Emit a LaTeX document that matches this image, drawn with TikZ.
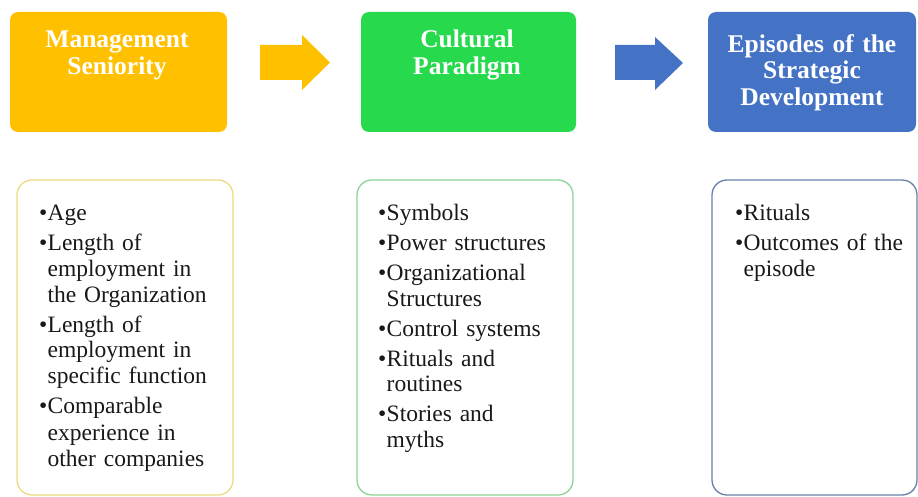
\documentclass[tikz,border=0pt]{standalone}
\usepackage{fontspec}
\setmainfont{Liberation Serif}
\definecolor{cOrange}{HTML}{FFC000}
\definecolor{cGreen}{RGB}{38,217,77}
\definecolor{cBlue}{HTML}{4472C4}
\definecolor{bOrange}{RGB}{238,218,130}
\definecolor{bGreen}{RGB}{140,212,150}
\definecolor{bBlue}{RGB}{105,128,170}
\definecolor{txt}{RGB}{25,25,25}
\newcommand\bl{\makebox[8.5pt][l]{•}}
\newcommand\ind{\hspace*{8.5pt}}
\begin{document}
\begin{tikzpicture}[x=1pt,y=-1pt,
  headbox/.style={rectangle,rounded corners=8pt,draw=none,inner sep=0pt},
  bodybox/.style={rectangle,rounded corners=15pt,line width=1.3pt,fill=white,inner sep=0pt},
  headtext/.style={text=white,font=\bfseries\fontsize{25.5}{26.5}\selectfont,text width=210pt,align=center,anchor=base,inner sep=0pt},
  bodytext/.style={text=txt,font=\fontsize{23.5}{26}\selectfont,text width=200pt,align=left,anchor=base west,inner sep=0pt}
]
\path[use as bounding box] (0,0) rectangle (918,497);
% header boxes
\node[headbox,fill=cOrange,minimum width=217pt,minimum height=120pt] (h1) at (118.5,72) {};
\node[headbox,fill=cGreen,minimum width=215pt,minimum height=120pt] (h2) at (468.5,72) {};
\node[headbox,fill=cBlue,minimum width=208pt,minimum height=120pt] (h3) at (812,72) {};
% header texts
\node[headtext] (t1) at (117,48) {Management\\Seniority};
\node[headtext] (t2) at (467,48) {Cultural\\Paradigm};
\node[headtext] (t3) at (812,52.5) {Episodes of the\\Strategic\\Development};
% arrows
\fill[cOrange] (260,45) -- (302,45) -- (302,35) -- (330,62.5) -- (302,90) -- (302,80) -- (260,80) -- cycle;
\fill[cBlue] (615,45) -- (655,45) -- (655,37) -- (683,63) -- (655,90) -- (655,80) -- (615,80) -- cycle;
% body boxes
\node[bodybox,draw=bOrange,minimum width=216pt,minimum height=315pt] (b1) at (125,337.5) {};
\node[bodybox,draw=bGreen,minimum width=216pt,minimum height=315pt] (b2) at (465,337.5) {};
\node[bodybox,draw=bBlue,minimum width=205pt,minimum height=315pt] (b3) at (814.5,337.5) {};
% body texts
\node[bodytext] (l1) at (39,220) {\bl Age\\[4pt]
\bl Length of\\
\ind employment in\\
\ind the Organization\\[4pt]
\bl Length of\\
\ind employment in\\
\ind specific function\\[4pt]
\bl Comparable\\
\ind experience in\\
\ind other companies};
\node[bodytext] (l2) at (378,220) {\bl Symbols\\[4pt]
\bl Power structures\\[4pt]
\bl Organizational\\
\ind Structures\\[4pt]
\bl Control systems\\[4pt]
\bl Rituals and\\
\ind routines\\[4pt]
\bl Stories and\\
\ind myths};
\node[bodytext] (l3) at (735,220) {\bl Rituals\\[4pt]
\bl Outcomes of the\\
\ind episode};
\end{tikzpicture}
\end{document}
